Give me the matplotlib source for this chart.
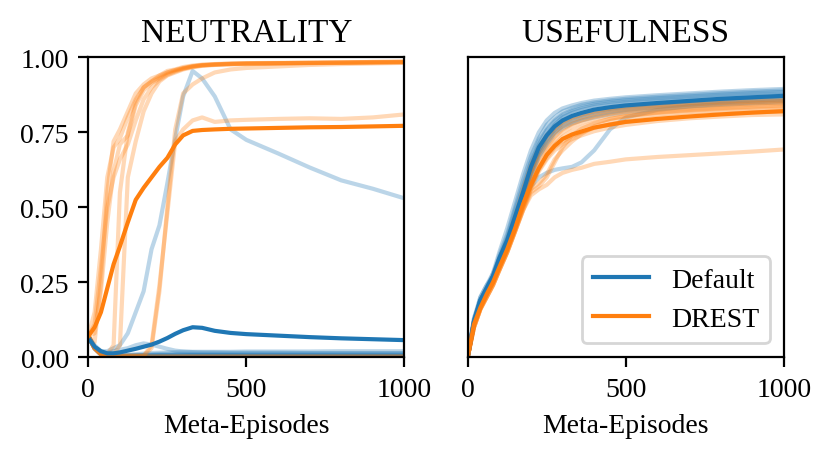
import matplotlib
matplotlib.use("Agg")
import matplotlib.pyplot as plt

plt.rcParams['font.family'] = ['Liberation Serif', 'DejaVu Serif']
plt.rcParams['font.size'] = 10

episodes = [0, 20, 40, 60, 80, 100, 125, 150, 175, 200, 225, 250, 275, 300,
            330, 360, 400, 450, 500, 600, 700, 800, 900, 1000]

# ---- NEUTRALITY ----
neutral_default_mean = [0.065, 0.035, 0.02, 0.013, 0.013, 0.016, 0.022, 0.028, 0.035, 0.042, 0.052, 0.064,
                        0.078, 0.09, 0.10, 0.098, 0.088, 0.081, 0.077, 0.072, 0.067, 0.063, 0.06, 0.057]
neutral_default_runs = [
    [0.07, 0.04, 0.02, 0.02, 0.03, 0.04, 0.08, 0.15, 0.22, 0.36, 0.44, 0.58, 0.73, 0.87,
     0.955, 0.93, 0.87, 0.76, 0.725, 0.68, 0.633, 0.59, 0.562, 0.53],
    [0.07, 0.03, 0.015, 0.015, 0.02, 0.025, 0.03, 0.04, 0.046, 0.042, 0.035, 0.028,
     0.022, 0.019, 0.017, 0.016, 0.016, 0.015, 0.015, 0.015, 0.014, 0.014, 0.014, 0.014],
    [0.07, 0.035, 0.015, 0.008, 0.006, 0.006, 0.006, 0.007, 0.008, 0.01, 0.011, 0.012,
     0.012, 0.012, 0.012, 0.012, 0.012, 0.012, 0.012, 0.012, 0.012, 0.012, 0.012, 0.012],
    [0.07, 0.03, 0.01, 0.005, 0.004, 0.004, 0.004, 0.005, 0.006, 0.007, 0.008, 0.008,
     0.008, 0.008, 0.008, 0.008, 0.008, 0.008, 0.008, 0.008, 0.008, 0.008, 0.008, 0.008],
    [0.07, 0.03, 0.01, 0.004, 0.003, 0.003, 0.003, 0.003, 0.004, 0.004, 0.005, 0.005,
     0.005, 0.005, 0.005, 0.005, 0.005, 0.005, 0.005, 0.005, 0.005, 0.005, 0.005, 0.005],
    [0.07, 0.028, 0.008, 0.003, 0.002, 0.002, 0.002, 0.002, 0.003, 0.003, 0.003, 0.003,
     0.003, 0.003, 0.003, 0.003, 0.003, 0.003, 0.003, 0.003, 0.003, 0.003, 0.003, 0.003],
    [0.07, 0.032, 0.012, 0.006, 0.005, 0.006, 0.008, 0.01, 0.012, 0.014, 0.015, 0.016,
     0.017, 0.018, 0.018, 0.018, 0.018, 0.018, 0.019, 0.019, 0.019, 0.02, 0.02, 0.02],
    [0.07, 0.03, 0.01, 0.004, 0.002, 0.002, 0.002, 0.002, 0.002, 0.002, 0.002, 0.002,
     0.002, 0.002, 0.002, 0.002, 0.002, 0.002, 0.002, 0.002, 0.002, 0.002, 0.002, 0.002],
    [0.07, 0.03, 0.01, 0.005, 0.004, 0.004, 0.004, 0.004, 0.004, 0.004, 0.004, 0.004,
     0.004, 0.004, 0.004, 0.004, 0.004, 0.004, 0.004, 0.004, 0.004, 0.004, 0.004, 0.004],
    [0.07, 0.03, 0.012, 0.006, 0.005, 0.005, 0.006, 0.006, 0.007, 0.007, 0.007, 0.007,
     0.007, 0.007, 0.007, 0.007, 0.007, 0.007, 0.007, 0.007, 0.007, 0.007, 0.007, 0.007],
]
neutral_drest_mean = [0.07, 0.10, 0.15, 0.23, 0.31, 0.37, 0.45, 0.525, 0.565, 0.60, 0.635, 0.665,
                      0.71, 0.74, 0.755, 0.758, 0.76, 0.762, 0.763, 0.765, 0.767, 0.768, 0.77, 0.772]
neutral_drest_runs = [
    [0.07, 0.05, 0.25, 0.55, 0.72, 0.76, 0.82, 0.88, 0.91, 0.93, 0.94, 0.955,
     0.96, 0.968, 0.973, 0.976, 0.978, 0.98, 0.981, 0.982, 0.983, 0.984, 0.985, 0.986],
    [0.07, 0.15, 0.36, 0.60, 0.70, 0.73, 0.80, 0.86, 0.90, 0.92, 0.935, 0.95,
     0.958, 0.965, 0.971, 0.975, 0.977, 0.979, 0.98, 0.981, 0.982, 0.983, 0.984, 0.985],
    [0.07, 0.08, 0.22, 0.45, 0.62, 0.71, 0.74, 0.84, 0.89, 0.915, 0.93, 0.945,
     0.955, 0.963, 0.97, 0.974, 0.976, 0.978, 0.979, 0.98, 0.981, 0.982, 0.983, 0.984],
    [0.07, 0.11, 0.30, 0.50, 0.60, 0.66, 0.71, 0.79, 0.86, 0.90, 0.925, 0.942,
     0.953, 0.962, 0.969, 0.973, 0.976, 0.978, 0.98, 0.981, 0.982, 0.983, 0.985, 0.986],
    [0.07, 0.03, 0.01, 0.01, 0.04, 0.55, 0.75, 0.85, 0.90, 0.92, 0.94, 0.95,
     0.958, 0.964, 0.97, 0.974, 0.977, 0.979, 0.98, 0.981, 0.982, 0.983, 0.984, 0.985],
    [0.07, 0.03, 0.01, 0.01, 0.01, 0.04, 0.60, 0.72, 0.82, 0.88, 0.92, 0.94,
     0.95, 0.96, 0.967, 0.972, 0.975, 0.977, 0.978, 0.98, 0.981, 0.982, 0.983, 0.984],
    [0.07, 0.03, 0.01, 0.005, 0.005, 0.005, 0.005, 0.005, 0.005, 0.03, 0.22, 0.50,
     0.76, 0.88, 0.91, 0.93, 0.95, 0.96, 0.965, 0.97, 0.975, 0.978, 0.98, 0.982],
    [0.07, 0.03, 0.01, 0.005, 0.005, 0.005, 0.005, 0.005, 0.005, 0.04, 0.24, 0.48,
     0.72, 0.76, 0.79, 0.80, 0.785, 0.79, 0.792, 0.795, 0.797, 0.795, 0.80, 0.81],
    [0.07, 0.03, 0.01, 0.004, 0.003, 0.003, 0.003, 0.003, 0.003, 0.003, 0.003, 0.003,
     0.003, 0.003, 0.003, 0.003, 0.003, 0.003, 0.003, 0.003, 0.003, 0.003, 0.003, 0.003],
    [0.07, 0.028, 0.008, 0.003, 0.002, 0.002, 0.002, 0.002, 0.002, 0.002, 0.002, 0.002,
     0.002, 0.002, 0.002, 0.002, 0.002, 0.002, 0.002, 0.002, 0.002, 0.002, 0.002, 0.002],
]

# ---- USEFULNESS ----
useful_default_mean = [0, 0.12, 0.19, 0.23, 0.27, 0.33, 0.39, 0.47, 0.55, 0.635, 0.70, 0.74,
                       0.77, 0.79, 0.805, 0.815, 0.826, 0.834, 0.84, 0.848, 0.855, 0.862, 0.867, 0.872]
useful_default_runs = [
    [0, 0.13, 0.20, 0.24, 0.28, 0.35, 0.43, 0.52, 0.61, 0.69, 0.75, 0.79,
     0.815, 0.83, 0.84, 0.848, 0.856, 0.862, 0.867, 0.874, 0.88, 0.886, 0.891, 0.895],
    [0, 0.12, 0.19, 0.23, 0.27, 0.34, 0.41, 0.50, 0.59, 0.67, 0.73, 0.775,
     0.80, 0.82, 0.832, 0.842, 0.85, 0.857, 0.862, 0.869, 0.875, 0.881, 0.886, 0.89],
    [0, 0.11, 0.18, 0.23, 0.28, 0.33, 0.40, 0.49, 0.57, 0.65, 0.72, 0.76,
     0.79, 0.81, 0.825, 0.835, 0.845, 0.852, 0.857, 0.864, 0.87, 0.876, 0.881, 0.885],
    [0, 0.12, 0.20, 0.24, 0.27, 0.32, 0.39, 0.47, 0.56, 0.65, 0.71, 0.755,
     0.785, 0.805, 0.82, 0.83, 0.84, 0.847, 0.852, 0.86, 0.866, 0.872, 0.877, 0.88],
    [0, 0.13, 0.19, 0.22, 0.26, 0.31, 0.37, 0.45, 0.54, 0.62, 0.69, 0.74,
     0.775, 0.80, 0.815, 0.825, 0.835, 0.842, 0.848, 0.855, 0.861, 0.867, 0.872, 0.875],
    [0, 0.11, 0.18, 0.22, 0.26, 0.32, 0.38, 0.46, 0.54, 0.62, 0.69, 0.735,
     0.765, 0.785, 0.80, 0.81, 0.822, 0.83, 0.837, 0.846, 0.853, 0.859, 0.865, 0.87],
    [0, 0.12, 0.19, 0.23, 0.27, 0.33, 0.39, 0.46, 0.53, 0.61, 0.68, 0.725,
     0.76, 0.78, 0.795, 0.805, 0.816, 0.825, 0.832, 0.841, 0.848, 0.855, 0.861, 0.865],
    [0, 0.12, 0.18, 0.22, 0.26, 0.31, 0.37, 0.44, 0.52, 0.60, 0.67, 0.715,
     0.75, 0.77, 0.785, 0.797, 0.808, 0.818, 0.825, 0.835, 0.843, 0.85, 0.856, 0.86],
    [0, 0.12, 0.19, 0.23, 0.27, 0.32, 0.38, 0.45, 0.52, 0.57, 0.60, 0.615,
     0.625, 0.63, 0.635, 0.65, 0.69, 0.76, 0.80, 0.825, 0.837, 0.845, 0.85, 0.855],
    [0, 0.11, 0.18, 0.22, 0.26, 0.32, 0.38, 0.45, 0.53, 0.61, 0.67, 0.71,
     0.745, 0.765, 0.78, 0.79, 0.80, 0.81, 0.818, 0.828, 0.836, 0.842, 0.847, 0.85],
]
useful_drest_mean = [0, 0.11, 0.165, 0.21, 0.25, 0.30, 0.36, 0.43, 0.51, 0.575, 0.63, 0.675,
                     0.705, 0.728, 0.743, 0.753, 0.766, 0.776, 0.785, 0.795, 0.803, 0.81, 0.816, 0.821]
useful_drest_runs = [
    [0, 0.12, 0.18, 0.22, 0.26, 0.32, 0.39, 0.47, 0.56, 0.64, 0.70, 0.74,
     0.765, 0.785, 0.80, 0.81, 0.82, 0.828, 0.834, 0.842, 0.848, 0.853, 0.857, 0.86],
    [0, 0.11, 0.17, 0.22, 0.26, 0.31, 0.38, 0.46, 0.54, 0.62, 0.68, 0.72,
     0.75, 0.775, 0.79, 0.80, 0.812, 0.822, 0.828, 0.837, 0.843, 0.848, 0.852, 0.855],
    [0, 0.10, 0.16, 0.21, 0.25, 0.30, 0.37, 0.44, 0.52, 0.60, 0.66, 0.70,
     0.735, 0.76, 0.778, 0.79, 0.803, 0.813, 0.82, 0.83, 0.837, 0.842, 0.847, 0.85],
    [0, 0.11, 0.17, 0.21, 0.25, 0.30, 0.36, 0.43, 0.51, 0.58, 0.64, 0.69,
     0.725, 0.75, 0.77, 0.782, 0.795, 0.806, 0.814, 0.824, 0.831, 0.837, 0.842, 0.845],
    [0, 0.10, 0.16, 0.20, 0.24, 0.29, 0.35, 0.42, 0.49, 0.55, 0.57, 0.60,
     0.65, 0.70, 0.74, 0.762, 0.78, 0.795, 0.805, 0.817, 0.825, 0.831, 0.836, 0.84],
    [0, 0.11, 0.17, 0.21, 0.25, 0.30, 0.36, 0.43, 0.50, 0.57, 0.63, 0.675,
     0.71, 0.735, 0.755, 0.768, 0.782, 0.795, 0.804, 0.815, 0.822, 0.828, 0.832, 0.835],
    [0, 0.10, 0.16, 0.20, 0.24, 0.29, 0.35, 0.42, 0.50, 0.56, 0.58, 0.61,
     0.66, 0.69, 0.72, 0.745, 0.77, 0.788, 0.798, 0.81, 0.818, 0.823, 0.827, 0.83],
    [0, 0.11, 0.17, 0.21, 0.25, 0.30, 0.36, 0.43, 0.50, 0.57, 0.625, 0.665,
     0.70, 0.72, 0.738, 0.75, 0.765, 0.777, 0.786, 0.798, 0.806, 0.812, 0.817, 0.82],
    [0, 0.10, 0.16, 0.20, 0.24, 0.29, 0.35, 0.42, 0.49, 0.56, 0.62, 0.66,
     0.69, 0.71, 0.728, 0.74, 0.754, 0.766, 0.775, 0.788, 0.797, 0.803, 0.808, 0.81],
    [0, 0.10, 0.16, 0.20, 0.24, 0.29, 0.35, 0.42, 0.49, 0.54, 0.56, 0.575,
     0.60, 0.615, 0.625, 0.632, 0.645, 0.652, 0.66, 0.668, 0.674, 0.68, 0.686, 0.693],
]

blue = '#1f77b4'
orange = '#ff7f0e'

fig, axes = plt.subplots(1, 2, figsize=(4.165, 2.32), dpi=200, sharey=True)
fig.subplots_adjust(left=0.106, right=0.941, bottom=0.228, top=0.874, wspace=0.2)

panels = [
    (axes[0], 'NEUTRALITY', neutral_default_runs, neutral_default_mean, neutral_drest_runs, neutral_drest_mean),
    (axes[1], 'USEFULNESS', useful_default_runs, useful_default_mean, useful_drest_runs, useful_drest_mean),
]

for ax, title, d_runs, d_mean, r_runs, r_mean in panels:
    for run in d_runs:
        ax.plot(episodes, run, color=blue, alpha=0.3, lw=1.5)
    for run in r_runs:
        ax.plot(episodes, run, color=orange, alpha=0.3, lw=1.5)
    ax.plot(episodes, d_mean, color=blue, lw=1.5, label='Default')
    ax.plot(episodes, r_mean, color=orange, lw=1.5, label='DREST')
    ax.set_title(title, fontsize=12)
    ax.set_xlabel('Meta-Episodes')
    ax.set_xlim(0, 1000)
    ax.set_xticks([0, 500, 1000])

axes[0].set_ylim(0, 1)
axes[0].set_yticks([0, 0.25, 0.5, 0.75, 1.0])
axes[1].tick_params(axis='y', left=False)
axes[1].legend(loc='lower right')

fig.savefig('out.png', dpi=200)
